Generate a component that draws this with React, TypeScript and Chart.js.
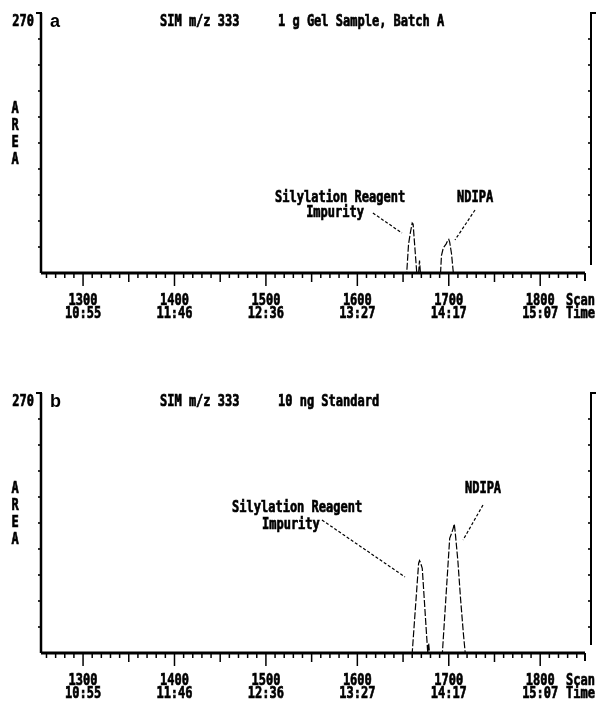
import React, { useEffect, useRef } from 'react';
import { Chart, registerables } from 'chart.js';
Chart.register(...registerables);

// ---- axes ----
const xMin = 1254;
const xMax = 1849;
const yMin = 0;
const yMax = 270;
const yTickStep = 27;
const xMinorStep = 10;
const xTickScans = [1300, 1400, 1500, 1600, 1700, 1800];
const xTickTimes = ['10:55', '11:46', '12:36', '13:27', '14:17', '15:07'];
const yTopLabel = '270';
const yAxisLetters = ['A', 'R', 'E', 'A'];

// ---- panel a: 1 g Gel Sample, Batch A ----
const titleA = ['SIM m/z 333', '1 g Gel Sample, Batch A'];
const scanA = [1254, 1654, 1656, 1658, 1660, 1661, 1662, 1665, 1667, 1668, 1669, 1691, 1692, 1694, 1697, 1699, 1700, 1701, 1703, 1705, 1849];
const areaA = [0, 0, 30, 42, 52, 51, 38, 0, 0, 13, 0, 0, 18, 26, 30, 34, 35, 32, 20, 0, 0];

// ---- panel b: 10 ng Standard ----
const titleB = ['SIM m/z 333', '10 ng Standard'];
const scanB = [1254, 1660, 1667, 1668, 1669, 1671, 1677, 1678, 1679, 1693, 1701, 1703, 1705, 1706, 1707, 1710, 1713, 1716, 1718, 1849];
const areaB = [0, 0, 93, 96, 94, 88, 0, 10, 0, 0, 119, 124, 130, 134, 126, 95, 55, 20, 0, 0];

// annotation labels: [text, scan, area] (left-aligned, baseline)
const labelsA: [string, number, number][] = [
  ['Silylation Reagent', 1510, 73.7],
  ['Impurity', 1544, 58.2],
  ['NDIPA', 1709, 73.7],
];
const leadersA: [number, number, number, number][] = [
  [1617, 62.3, 1648.8, 41.5],
  [1728.7, 65.4, 1706.8, 34.3],
];
const labelsB: [string, number, number][] = [
  ['Silylation Reagent', 1463, 146.4],
  ['Impurity', 1495.7, 128.8],
  ['NDIPA', 1717.7, 166.2],
];
const leadersB: [number, number, number, number][] = [
  [1561.3, 138.1, 1652.1, 79.0],
  [1737.4, 153.7, 1715.6, 117.3],
];

const MONO = '"DejaVu Sans Mono", "Liberation Mono", monospace';

function txt(ctx: CanvasRenderingContext2D, s: string, x: number, y: number, align: 'left' | 'center' | 'right' = 'left', size = 16, sx = 0.75) {
  ctx.save();
  ctx.font = `bold ${size}px ${MONO}`;
  ctx.textBaseline = 'alphabetic';
  ctx.textAlign = 'left';
  const w = ctx.measureText(s).width * sx;
  let x0 = x;
  if (align === 'center') x0 = x - w / 2;
  else if (align === 'right') x0 = x - w;
  ctx.translate(x0, y);
  ctx.scale(sx, 1);
  ctx.fillStyle = '#000';
  ctx.strokeStyle = '#000';
  ctx.lineWidth = 0.7;
  ctx.fillText(s, 0, 0);
  ctx.strokeText(s, 0, 0);
  ctx.restore();
}

function line(ctx: CanvasRenderingContext2D, x1: number, y1: number, x2: number, y2: number, w: number, dash: number[] = []) {
  ctx.save();
  ctx.strokeStyle = '#000';
  ctx.lineWidth = w;
  ctx.setLineDash(dash);
  ctx.beginPath();
  ctx.moveTo(x1, y1);
  ctx.lineTo(x2, y2);
  ctx.stroke();
  ctx.restore();
}

type PanelCfg = {
  letter: string;
  titles: string[];
  scans: number[];
  areas: number[];
  labels: [string, number, number][];
  leaders: [number, number, number, number][];
  top: number;
  bottom: number;
};

function makeDecor(cfg: PanelCfg) {
  return {
    id: 'decor',
    afterDatasetsDraw(chart: any) {
      const ctx: CanvasRenderingContext2D = chart.ctx;
      const { left, right, top, bottom } = chart.chartArea;
      const xs = chart.scales.x;
      const ys = chart.scales.y;
      // left axis
      line(ctx, left, top, left, bottom, 2.5);
      line(ctx, left - 5, top, left + 1, top, 2);
      // right axis
      const rx = right + 6;
      line(ctx, rx, top, rx, bottom - 8, 2);
      line(ctx, rx - 1, top, rx + 5, top, 2);
      for (let v = yMin + yTickStep; v < yMax; v += yTickStep) {
        const py = ys.getPixelForValue(v);
        line(ctx, left - 3, py, left, py, 1.6);
        line(ctx, rx - 3, py, rx, py, 1.6);
      }
      // baseline (x axis)
      line(ctx, left, bottom, right, bottom, 3);
      const first = Math.ceil(xMin / xMinorStep) * xMinorStep;
      for (let s = first; s <= xMax; s += xMinorStep) {
        const px = xs.getPixelForValue(s);
        const len = s % 100 === 0 ? 13 : s % 50 === 0 ? 9 : 5;
        line(ctx, px, bottom, px, bottom + len, 1.5);
      }
      line(ctx, right, bottom, right, bottom + 8, 2);
      // x tick labels
      xTickScans.forEach((s, i) => {
        const px = xs.getPixelForValue(s);
        txt(ctx, String(s), px, bottom + 32, 'center');
        txt(ctx, xTickTimes[i], px, bottom + 45, 'center');
      });
      txt(ctx, 'Scan', right - 19, bottom + 32);
      txt(ctx, 'Time', right - 19, bottom + 45);
      // y labels
      txt(ctx, yTopLabel, left - 7, top + 13, 'right');
      yAxisLetters.forEach((c, i) => {
        txt(ctx, c, 15, top + 100 + i * 17, 'center');
      });
      // panel letter
      ctx.save();
      ctx.font = 'bold 18px "Liberation Sans", Arial, sans-serif';
      ctx.fillStyle = '#000';
      ctx.textBaseline = 'alphabetic';
      ctx.fillText(cfg.letter, left + 9, top + 14);
      ctx.restore();
      // titles
      txt(ctx, cfg.titles[0], 160, top + 13);
      txt(ctx, cfg.titles[1], 278, top + 13);
      // annotations
      cfg.labels.forEach(([t, s, v]) => {
        txt(ctx, t, xs.getPixelForValue(s), ys.getPixelForValue(v));
      });
      cfg.leaders.forEach(([s1, v1, s2, v2]) => {
        line(ctx, xs.getPixelForValue(s1), ys.getPixelForValue(v1), xs.getPixelForValue(s2), ys.getPixelForValue(v2), 1.2, [3, 2]);
      });
    },
  };
}

function Panel({ cfg, height }: { cfg: PanelCfg; height: number }) {
  const ref = useRef<HTMLCanvasElement>(null);
  useEffect(() => {
    if (!ref.current) return;
    const chart = new Chart(ref.current, {
      type: 'line',
      data: {
        datasets: [
          {
            data: cfg.scans.map((s, i) => ({ x: s, y: cfg.areas[i] })),
            borderColor: '#000',
            borderWidth: 1.2,
            borderDash: [7, 2],
            pointRadius: 0,
            tension: 0,
            fill: false,
          },
        ],
      },
      options: {
        responsive: false,
        animation: false,
        devicePixelRatio: 1,
        layout: { padding: { left: 41, right: 12, top: cfg.top, bottom: height - cfg.bottom } },
        plugins: { legend: { display: false }, tooltip: { enabled: false } },
        scales: {
          x: { type: 'linear', min: xMin, max: xMax, display: false },
          y: { type: 'linear', min: yMin, max: yMax, display: false },
        },
      },
      plugins: [makeDecor(cfg)],
    } as any);
    return () => chart.destroy();
  }, []);
  return <canvas ref={ref} width={597} height={height} style={{ display: 'block', width: 597, height }} />;
}

export default function App() {
  const cfgA: PanelCfg = { letter: 'a', titles: titleA, scans: scanA, areas: areaA, labels: labelsA, leaders: leadersA, top: 13, bottom: 273 };
  const cfgB: PanelCfg = { letter: 'b', titles: titleB, scans: scanB, areas: areaB, labels: labelsB, leaders: leadersB, top: 41, bottom: 301 };
  return (
    <div style={{ position: 'absolute', left: 0, top: 0, width: 597, height: 704, background: '#fff' }}>
      <Panel cfg={cfgA} height={352} />
      <Panel cfg={cfgB} height={352} />
    </div>
  );
}
